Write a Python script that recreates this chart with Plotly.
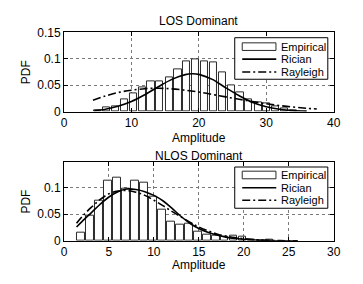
import plotly.graph_objects as go

# ---------------- data ----------------
los_bins = [5.0, 6.3, 7.6, 9.0, 10.3, 11.6, 12.9, 14.2, 15.6, 16.9, 18.2, 19.5,
            20.8, 22.2, 23.5, 24.8, 26.1, 27.4, 28.8, 30.1, 31.4, 32.7, 34.0]
los_empirical = [0.003, 0.008, 0.009, 0.024, 0.034, 0.046, 0.057, 0.057, 0.065, 0.080, 0.095, 0.098,
                 0.096, 0.094, 0.075, 0.050, 0.036, 0.024, 0.018, 0.015, 0.010, 0.006, 0.003]

los_rician_x = [4.5, 6, 8, 10, 12, 14, 16, 18, 19, 20, 22, 24, 26, 28, 30, 32, 34, 36]
los_rician_y = [0.002, 0.004, 0.010, 0.019, 0.032, 0.047, 0.061, 0.070, 0.0715, 0.0705,
                0.061, 0.045, 0.030, 0.017, 0.009, 0.0045, 0.002, 0.0008]

los_rayleigh_x = [4.3, 6, 8, 10, 12, 14, 16, 18, 20, 22, 24, 26, 28, 30, 32, 34, 36, 37.5]
los_rayleigh_y = [0.0216, 0.029, 0.036, 0.0405, 0.0433, 0.0441, 0.043, 0.0405, 0.037, 0.0325,
                  0.0278, 0.0233, 0.0188, 0.0149, 0.0114, 0.0086, 0.0063, 0.0049]

nlos_bins = [1.9, 2.9, 3.9, 4.9, 5.9, 6.9, 7.9, 8.9, 9.9, 10.9, 11.9, 12.9, 13.9, 14.9,
             15.9, 16.9, 17.9, 18.9, 19.9, 20.9, 21.9, 22.9]
nlos_empirical = [0.015, 0.048, 0.076, 0.113, 0.118, 0.097, 0.113, 0.109, 0.083, 0.059, 0.036,
                  0.030, 0.033, 0.017, 0.012, 0.010, 0.008, 0.009, 0.008, 0.002, 0.001, 0.003]

nlos_rician_x = [1.4, 2, 3, 4, 5, 6, 7, 8, 9, 10, 11, 12, 13, 14, 15, 16, 17, 18, 19, 20, 22, 24, 26]
nlos_rician_y = [0.026, 0.036, 0.052, 0.068, 0.082, 0.092, 0.097, 0.096, 0.092, 0.085, 0.075,
                 0.061, 0.046, 0.033, 0.023, 0.016, 0.011, 0.007, 0.0045, 0.003, 0.001, 0.0003, 0.0001]

nlos_rayleigh_x = [1.4, 2, 3, 4, 5, 6, 7, 8, 9, 10, 11, 12, 13, 14, 15, 16, 17, 18, 19, 20, 22, 24, 26]
nlos_rayleigh_y = [0.033, 0.045, 0.062, 0.077, 0.088, 0.093, 0.094, 0.091, 0.085, 0.076, 0.066,
                   0.055, 0.045, 0.035, 0.026, 0.019, 0.013, 0.009, 0.006, 0.004, 0.0015, 0.0005, 0.0001]

titles = ["LOS Dominant", "NLOS Dominant"]
legend_names = ["Empirical", "Rician", "Rayleigh"]
x_label = "Amplitude"
y_label = "PDF"

# ---------------- styling / layout ----------------
W, H = 363, 284
FONT = "Liberation Sans, Arial, Helvetica, sans-serif"
BAR_LINE = "#2a2a2a"
DASHDOT = "8px,3px,2px,3px"


def px_x(x):
    return x / W


def px_y(y):
    return 1 - y / H


fig = go.Figure()

# top panel
fig.add_trace(go.Bar(x=los_bins, y=los_empirical, width=1.06, marker=dict(color="white", line=dict(color=BAR_LINE, width=1)),
                     xaxis="x", yaxis="y", showlegend=False))
fig.add_trace(go.Scatter(x=los_rician_x, y=los_rician_y, mode="lines", line=dict(color="black", width=1.6, shape="spline"),
                         xaxis="x", yaxis="y", showlegend=False))
fig.add_trace(go.Scatter(x=los_rayleigh_x, y=los_rayleigh_y, mode="lines",
                         line=dict(color="black", width=1.6, shape="spline", dash=DASHDOT),
                         xaxis="x", yaxis="y", showlegend=False))

# bottom panel
fig.add_trace(go.Bar(x=nlos_bins, y=nlos_empirical, width=0.8, marker=dict(color="white", line=dict(color=BAR_LINE, width=1)),
                     xaxis="x2", yaxis="y2", showlegend=False))
fig.add_trace(go.Scatter(x=nlos_rician_x, y=nlos_rician_y, mode="lines", line=dict(color="black", width=1.6, shape="spline"),
                         xaxis="x2", yaxis="y2", showlegend=False))
fig.add_trace(go.Scatter(x=nlos_rayleigh_x, y=nlos_rayleigh_y, mode="lines",
                         line=dict(color="black", width=1.6, shape="spline", dash=DASHDOT),
                         xaxis="x2", yaxis="y2", showlegend=False))

x_dom = [px_x(62.7), px_x(340)]
top_dom = [px_y(110), px_y(26.7)]
bot_dom = [px_y(246), px_y(162.7)]

axis_common = dict(
    showline=True, linecolor="black", linewidth=1, mirror="ticks",
    ticks="inside", ticklen=4, tickcolor="black",
    showgrid=True, gridcolor="#7a7a7a", griddash="dot", gridwidth=1,
    zeroline=False, tickfont=dict(family=FONT, size=12, color="black"),
)

fig.update_layout(
    width=W, height=H,
    margin=dict(l=0, r=0, t=0, b=0),
    paper_bgcolor="white", plot_bgcolor="white",
    bargap=0,
    xaxis=dict(domain=x_dom, range=[0, 40], tickvals=[0, 10, 20, 30, 40], anchor="y", **axis_common),
    yaxis=dict(domain=top_dom, range=[0, 0.15], tickvals=[0, 0.05, 0.1, 0.15],
               ticktext=["0", "0.05", "0.1", "0.15"], anchor="x", **axis_common),
    xaxis2=dict(domain=x_dom, range=[0, 30], tickvals=[0, 5, 10, 15, 20, 25, 30], anchor="y2", **axis_common),
    yaxis2=dict(domain=bot_dom, range=[0, 0.148], tickvals=[0, 0.05, 0.1],
                ticktext=["0", "0.05", "0.1"], anchor="x2", **axis_common),
)

annotations = []
shapes = []


def add_text(text, x, y, size=12, angle=0, xanchor="center"):
    annotations.append(dict(text=text, x=px_x(x), y=px_y(y), xref="paper", yref="paper",
                            showarrow=False, textangle=angle, xanchor=xanchor, yanchor="middle",
                            font=dict(family=FONT, size=size, color="black")))


# titles and axis labels
add_text(titles[0], 201.4, 15)
add_text(titles[1], 201.4, 157)
add_text(x_label, 201.4, 137.5)
add_text(x_label, 201.4, 271)
add_text(y_label, 24, 68.3, angle=-90)
add_text(y_label, 24, 204.3, angle=-90)


# custom legends (MATLAB style)
def add_legend(y_top, y_bottom, rows):
    shapes.append(dict(type="rect", xref="paper", yref="paper",
                       x0=px_x(238.3), x1=px_x(334), y0=px_y(y_bottom), y1=px_y(y_top),
                       line=dict(color="black", width=1), fillcolor="white", layer="above"))
    # empirical bar symbol
    shapes.append(dict(type="rect", xref="paper", yref="paper",
                       x0=px_x(246), x1=px_x(280.7), y0=px_y(rows[0] + 4), y1=px_y(rows[0] - 4),
                       line=dict(color=BAR_LINE, width=1), fillcolor="white", layer="above"))
    shapes.append(dict(type="line", xref="paper", yref="paper",
                       x0=px_x(246), x1=px_x(281), y0=px_y(rows[1]), y1=px_y(rows[1]),
                       line=dict(color="black", width=1.6), layer="above"))
    shapes.append(dict(type="line", xref="paper", yref="paper",
                       x0=px_x(246), x1=px_x(281), y0=px_y(rows[2]), y1=px_y(rows[2]),
                       line=dict(color="black", width=1.6, dash=DASHDOT), layer="above"))
    for name, yy in zip(legend_names, rows):
        add_text(name, 284, yy, size=11, xanchor="left")


add_legend(32.3, 76, [41.7, 54.8, 68.3])
add_legend(168.3, 211.7, [176.7, 190.2, 203.3])

fig.update_layout(annotations=annotations, shapes=shapes)

fig.write_html(
    "out.html",
    config={"displayModeBar": False},
    post_script="document.body.style.margin='0';document.body.style.overflow='hidden';",
)
